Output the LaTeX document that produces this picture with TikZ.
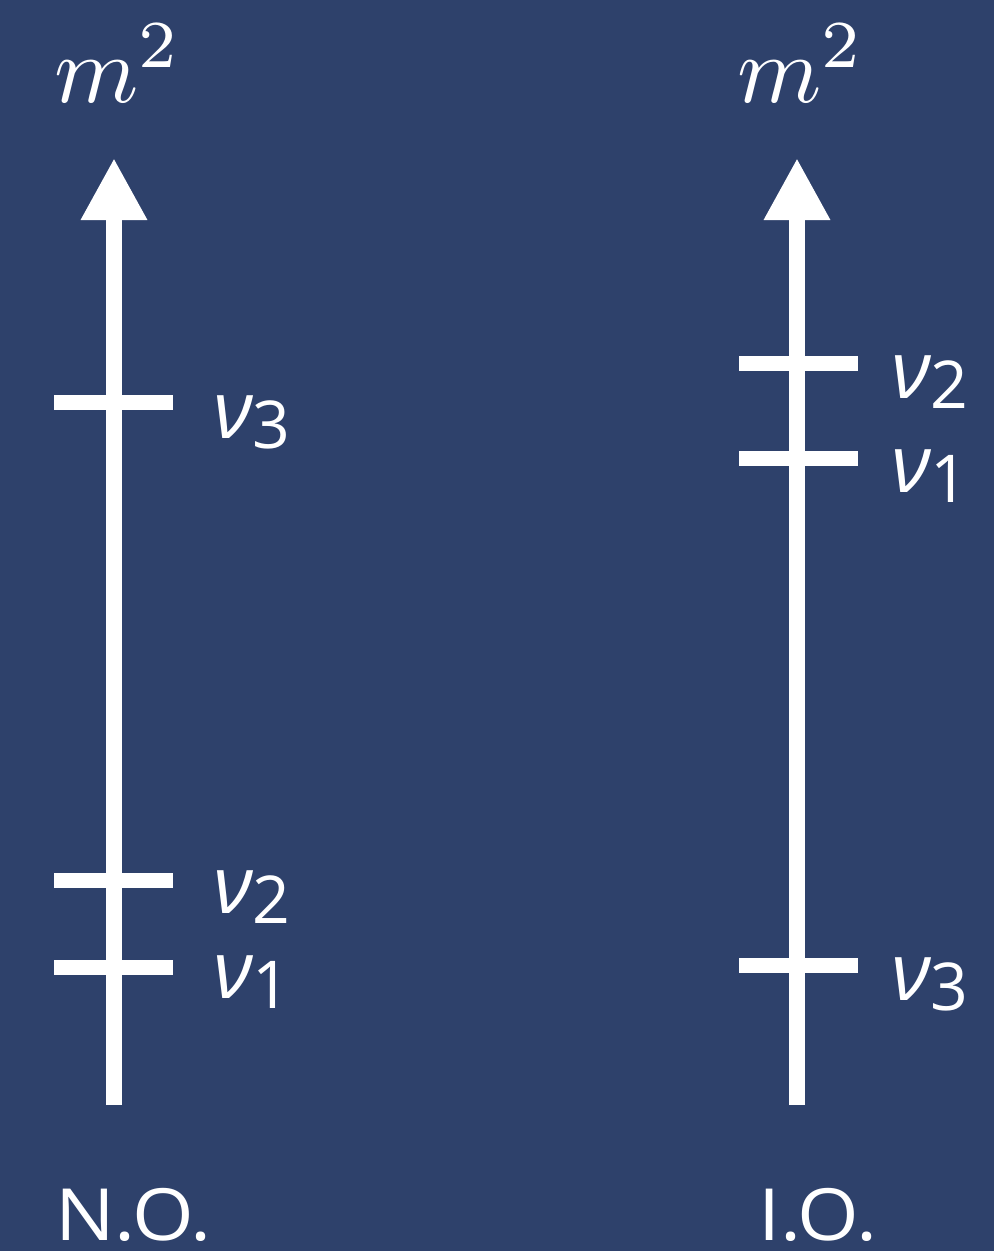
\documentclass[tikz,border=0pt]{standalone}
\usepackage{fontspec}
\setmainfont{Open Sans}
\usetikzlibrary{arrows.meta}
\definecolor{bgblue}{RGB}{46,65,107}
\newcommand{\nulab}[1]{{\fontsize{80}{80}\selectfont\itshape ν}\raisebox{-10pt}{\fontsize{66}{66}\selectfont #1}}
\begin{document}
\begin{tikzpicture}[x=1pt,y=-1pt,
  axisline/.style={white,line width=16pt,-{Triangle[length=62pt,width=62pt]}},
  tickline/.style={white,line width=15pt},
  nulabel/.style={text=white,anchor=base west,inner sep=0pt},
  masslabel/.style={text=white,anchor=base west,inner sep=0pt},
  orderlabel/.style={text=white,anchor=base west,inner sep=0pt,font=\fontsize{72}{72}\selectfont}]
\fill[bgblue] (0,0) rectangle (994,1251);
\useasboundingbox (0,0) rectangle (994,1251);
% left axis
\coordinate (nb) at (114,1105);
\coordinate (nt) at (114,158);
\draw[axisline] (nb) -- (nt);
\coordinate (n3a) at (54,402); \coordinate (n3b) at (173,402);
\coordinate (n2a) at (54,880); \coordinate (n2b) at (173,880);
\coordinate (n1a) at (54,967); \coordinate (n1b) at (173,967);
\draw[tickline] (n3a) -- (n3b);
\draw[tickline] (n2a) -- (n2b);
\draw[tickline] (n1a) -- (n1b);
\node[nulabel] (ln3) at (213,438) {\nulab{3}};
\node[nulabel] (ln2) at (213,913) {\nulab{2}};
\node[nulabel] (ln1) at (213,998) {\nulab{1}};
\node[masslabel] (mn) at (54,102) {\scalebox{9.6}{$m^2$}};
\node[orderlabel] (no) at (55,1240) {\scalebox{1.1}[1]{N.O.}};
% right axis
\coordinate (ib) at (797,1105);
\coordinate (it) at (797,158);
\draw[axisline] (ib) -- (it);
\coordinate (i2a) at (739,363); \coordinate (i2b) at (858,363);
\coordinate (i1a) at (739,458); \coordinate (i1b) at (858,458);
\coordinate (i3a) at (739,965); \coordinate (i3b) at (858,965);
\draw[tickline] (i2a) -- (i2b);
\draw[tickline] (i1a) -- (i1b);
\draw[tickline] (i3a) -- (i3b);
\node[nulabel] (li2) at (891,398) {\nulab{2}};
\node[nulabel] (li1) at (891,492) {\nulab{1}};
\node[nulabel] (li3) at (891,1000) {\nulab{3}};
\node[masslabel] (mi) at (737,102) {\scalebox{9.6}{$m^2$}};
\node[orderlabel] (io) at (758,1240) {\scalebox{1.1}[1]{I.O.}};
\end{tikzpicture}
\end{document}
